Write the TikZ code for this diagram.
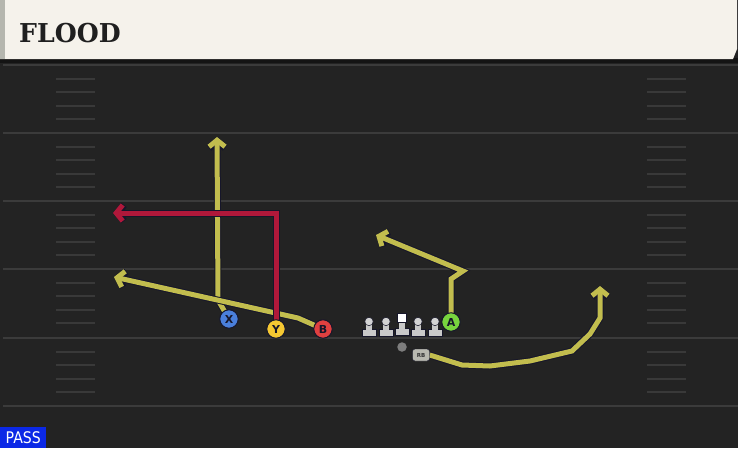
\documentclass[tikz,border=0pt]{standalone}
\usepackage{fontspec}
\usetikzlibrary{arrows.meta}
\newfontfamily\titlefont{DejaVu Serif}
\newfontfamily\lblfont{DejaVu Sans}
\definecolor{fieldbg}{HTML}{232323}
\definecolor{majorline}{HTML}{3B3B3B}
\definecolor{tickc}{HTML}{393939}
\definecolor{headerbg}{HTML}{F5F2EB}
\definecolor{stripe}{HTML}{B5B6AE}
\definecolor{headerdark}{HTML}{141414}
\definecolor{passblue}{HTML}{0B28E6}
\definecolor{yel}{HTML}{C2BD4E}
\definecolor{rte}{HTML}{B0183A}
\definecolor{outl}{HTML}{16162A}
\definecolor{xblue}{HTML}{4A7FDB}
\definecolor{yyellow}{HTML}{F5C832}
\definecolor{bred}{HTML}{E04040}
\definecolor{agreen}{HTML}{78D43E}
\definecolor{lmgray}{HTML}{C9C9C9}
\definecolor{qbgray}{HTML}{7D7D7D}
\definecolor{rbgray}{HTML}{B9B9B0}
\pgfdeclarelayer{fieldlayer}
\pgfdeclarelayer{routelayer}
\pgfsetlayers{fieldlayer,routelayer,main}
\tikzset{
  routeout/.style={draw=outl, line width=7pt, line join=miter, -{Straight Barb[length=6.5pt,width=16pt]}},
  route/.style={line width=5pt, line join=miter, -{Straight Barb[length=6.5pt,width=16pt]}},
  player/.style={circle, draw=outl, line width=1pt, minimum size=18.5pt, inner sep=0pt, text=outl,
    font=\lblfont\bfseries\fontsize{11}{11}\selectfont},
  majorln/.style={draw=majorline, line width=1.5pt},
  tickln/.style={draw=tickc, line width=2pt},
}
\newcommand\rtline[2]{\draw[routeout] #2; \draw[route,draw=#1] #2;}
\begin{document}
\begin{tikzpicture}[x=1pt,y=-1pt]
\useasboundingbox (0,0) rectangle (738,448);
\begin{pgfonlayer}{fieldlayer}
\fill[fieldbg] (0,0) rectangle (738,448);
\foreach \yy in {65,133,201,269,338,406} {\draw[majorln] (3,\yy) -- (738,\yy);}
\foreach \b in {65,133,201,269,338} {
  \foreach \k in {1,2,3,4} {
    \pgfmathsetmacro\ty{\b+13.6*\k}
    \draw[tickln] (56,\ty) -- (95,\ty);
    \draw[tickln] (647,\ty) -- (686,\ty);
  }
}
\fill[headerdark] (0,58) rectangle (738,63);
\fill[headerbg] (0,0) -- (737,0) -- (737,49) -- (733,59) -- (0,59) -- cycle;
\fill[stripe] (0,0) rectangle (5,59);
\end{pgfonlayer}
\node[anchor=base west, inner sep=0pt, text=black!88, font=\titlefont\bfseries\fontsize{26}{26}\selectfont] (title) at (19,42) {\scalebox{0.97}[1]{FLOOD}};
% PASS tag
\node[fill=passblue, anchor=south west, minimum width=46pt, minimum height=21pt, inner sep=0pt, text=white,
  font=\lblfont\fontsize{16}{16}\selectfont] (pass) at (0,448) {\scalebox{0.88}[1]{PASS}};
% players
\node[player, fill=xblue] (X) at (229,319) {X};
\node[player, fill=yyellow] (Y) at (276,329) {Y};
\node[player, fill=bred] (B) at (323,329) {B};
\node[player, fill=agreen] (A) at (451,322) {A};
\node[circle, fill=qbgray, minimum size=9.5pt, inner sep=0pt] (QB) at (402,347) {};
\node[draw=outl, fill=rbgray, rounded corners=2.5pt, minimum width=17pt, minimum height=12pt, inner sep=0pt,
  text=black!80, font=\lblfont\bfseries\fontsize{5.5}{5.5}\selectfont] (RB) at (421,355) {RB};
% linemen
\foreach \x in {369,386,418,435} {
  \fill[lmgray, draw=outl, line width=0.5pt] (\x-7,329.5) rectangle (\x+7,336);
  \fill[lmgray] (\x-2.8,322) rectangle (\x+2.8,330.5);
  \fill[lmgray!80!white, draw=outl, line width=0.5pt] (\x,321.5) circle (4.2pt);
}
\fill[lmgray, draw=outl, line width=0.5pt] (395,328.5) rectangle (409,335);
\fill[lmgray] (399.2,321) rectangle (404.8,329.5);
\fill[white, draw=outl, line width=0.5pt] (397.5,313.5) rectangle (406.5,322.5);
% route points
\coordinate (xbend) at (218,300);
\coordinate (xend) at (217,137);
\coordinate (bbend) at (298,318);
\coordinate (bend) at (114,277);
\coordinate (ycorner) at (276,213);
\coordinate (yend) at (113,213);
\coordinate (abend1) at (451,279);
\coordinate (abend2) at (463,271);
\coordinate (aend) at (376,235);
\coordinate (r1) at (462,365);
\coordinate (r2) at (490,366);
\coordinate (r3) at (530,361);
\coordinate (r4) at (572,351);
\coordinate (r5) at (590,334);
\coordinate (r6) at (600,318);
\coordinate (rend) at (600,286);
% routes
\begin{pgfonlayer}{routelayer}
\rtline{yel}{(X.center) -- (xbend) -- (xend)}
\rtline{yel}{(B.center) -- (bbend) -- (bend)}
\rtline{rte}{(Y.center) -- (ycorner) -- (yend)}
\rtline{yel}{(A.center) -- (abend1) -- (abend2) -- (aend)}
\rtline{yel}{(RB.east) -- (r1) -- (r2) -- (r3) -- (r4) -- (r5) -- (r6) -- (rend)}
\end{pgfonlayer}
\end{tikzpicture}
\end{document}
